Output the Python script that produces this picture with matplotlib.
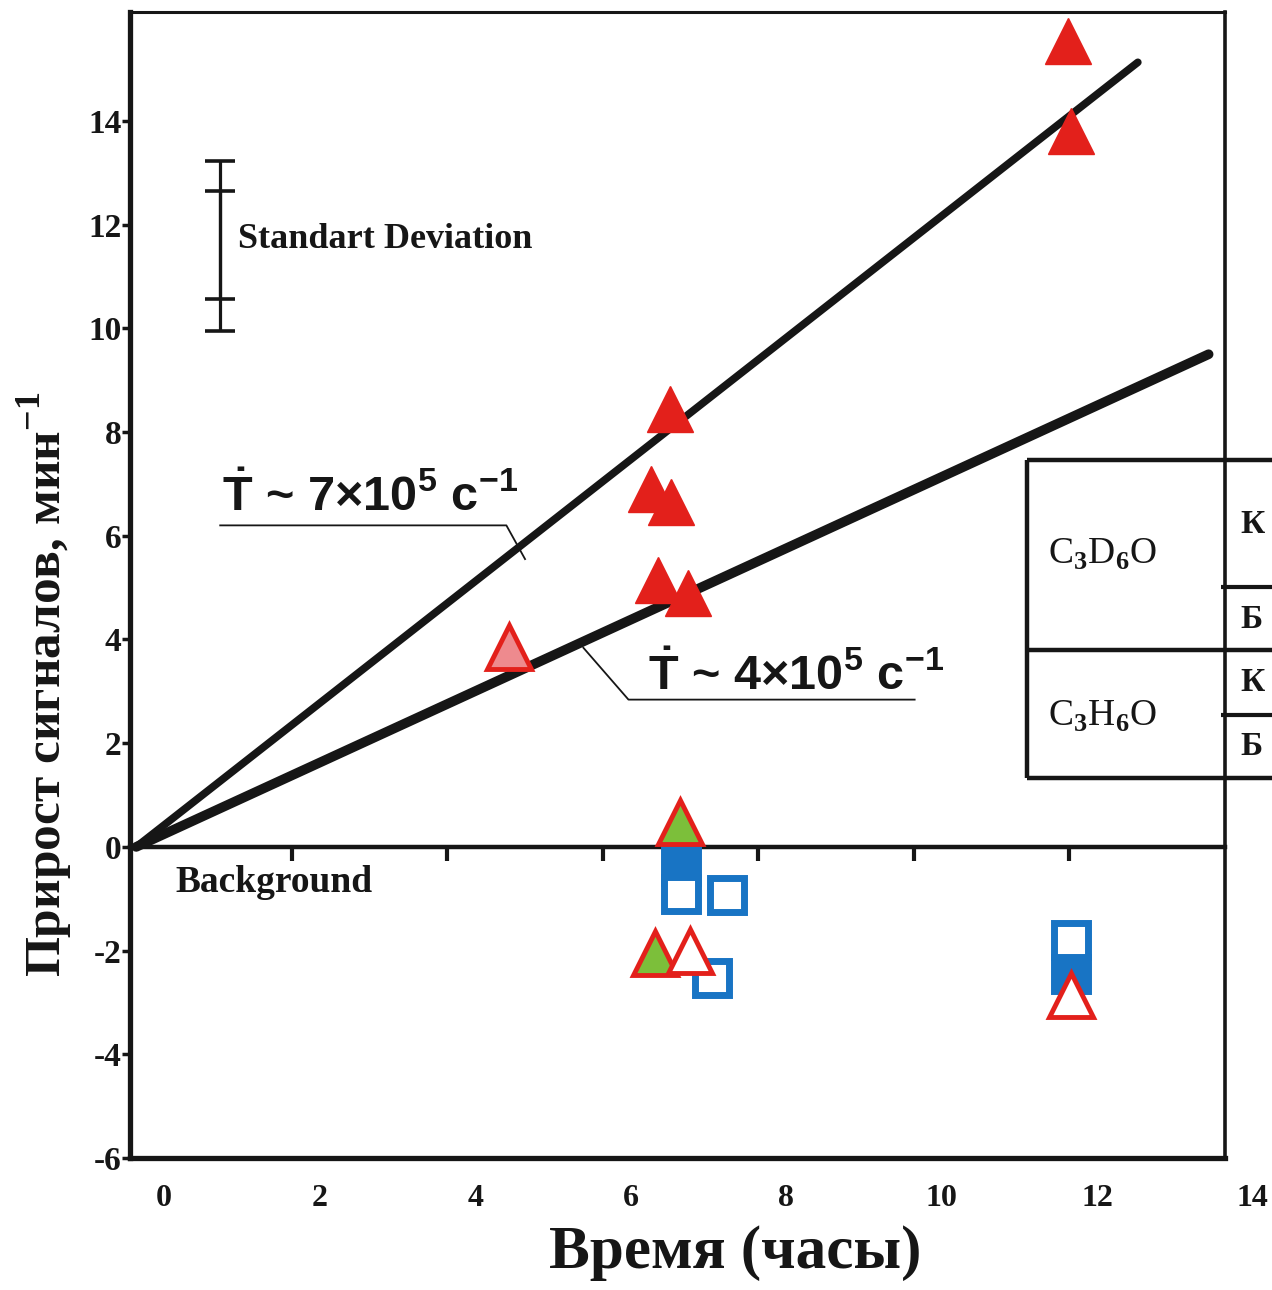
import matplotlib

matplotlib.use("Agg")
import matplotlib.pyplot as plt
import matplotlib.transforms as mtransforms

plt.rcParams["font.family"] = ["Liberation Serif", "DejaVu Serif"]
plt.rcParams["font.weight"] = "bold"
plt.rcParams["axes.labelweight"] = "bold"
plt.rcParams["mathtext.fontset"] = "custom"
plt.rcParams["mathtext.rm"] = "Liberation Serif"
plt.rcParams["mathtext.bf"] = "Liberation Serif:bold"
plt.rcParams["mathtext.sf"] = "Liberation Sans:bold"

# fitted rate lines (hours, signals per minute)
fast_t = [0.0, 12.88]
fast_y = [0.0, 15.13]
slow_t = [0.0, 13.79]
slow_y = [0.0, 9.5]

# red filled triangles
signal_t = [11.98, 12.02, 6.86, 6.62, 6.88, 6.71, 7.09]
signal_y = [15.55, 13.8, 8.45, 6.9, 6.65, 5.15, 4.9]
# pink triangle
pink_t = [4.79]
pink_y = [3.85]
# green triangles
green_t = [6.99, 6.67]
green_y = [0.48, -2.05]
# open triangles
open_tri_t = [7.12, 12.02]
open_tri_y = [-2.0, -2.86]
# blue squares
filled_sq_t = [7.0, 12.02]
filled_sq_y = [-0.37, -2.45]
open_sq_t = [7.0, 7.6, 7.41, 12.02]
open_sq_y = [-0.9, -0.92, -2.53, -1.8]

# standard deviation marker
sd_x = [1.08, 1.08]
sd_y = [11.58, 11.6]
sd_err = [1.64, 1.04]

x_ticks = [0, 2, 4, 6, 8, 10, 12, 14]
y_ticks = [-6, -4, -2, 0, 2, 4, 6, 8, 10, 12, 14]
zero_ticks = [2, 4, 6, 8, 10, 12]

RED = "#E3201B"
BLUE = "#1874C4"
GREEN = "#7CBF3A"
PINK = "#EE8A8E"
INK = "#161616"

fig = plt.figure(figsize=(12.72, 12.90), dpi=100)
ax = fig.add_axes([0.1022, 0.1023, 0.8608, 0.8884])
ax.set_xlim(-0.08, 13.95)
ax.set_ylim(-6, 16.1)

for side, lw in (("left", 3.8), ("bottom", 3.8), ("top", 2.2), ("right", 2.6)):
    ax.spines[side].set_linewidth(lw)
    ax.spines[side].set_color(INK)

ax.set_yticks(y_ticks)
ax.set_yticklabels([str(v) for v in y_ticks])
ax.tick_params(axis="y", direction="out", length=6, width=2.5, pad=0,
               labelsize=24, colors=INK)
ax.set_xticks(x_ticks)
ax.set_xticklabels([str(v) for v in x_ticks])
ax.tick_params(axis="x", length=0, pad=19, labelsize=23, colors=INK)
shift = mtransforms.ScaledTranslation(0.28, 0, fig.dpi_scale_trans)
for lab in ax.get_xticklabels():
    lab.set_transform(lab.get_transform() + shift)

# zero line with its own ticks
zero = ax.secondary_xaxis(6 / 22.1)
zero.spines["bottom"].set_linewidth(3.2)
zero.spines["bottom"].set_color(INK)
zero.set_xticks(zero_ticks)
zero.tick_params(direction="out", length=10, width=3, labelbottom=False,
                 colors=INK)

ax.plot(fast_t, fast_y, color=INK, lw=5.5, solid_capstyle="round", zorder=3)
ax.plot(slow_t, slow_y, color=INK, lw=7, solid_capstyle="round", zorder=3)

ax.plot(filled_sq_t, filled_sq_y, "s", ms=24.5, mfc=BLUE, mec=BLUE, mew=5,
        ls="none", zorder=4)
ax.plot(open_sq_t, open_sq_y, "s", ms=24.5, mfc="white", mec=BLUE, mew=5,
        ls="none", zorder=5)
ax.plot(signal_t, signal_y, "^", ms=33, mfc=RED, mec=RED, mew=1,
        ls="none", zorder=6)
ax.plot(pink_t, pink_y, "^", ms=31, mfc=PINK, mec=RED, mew=3.5,
        ls="none", zorder=6)
ax.plot(green_t, green_y, "^", ms=31, mfc=GREEN, mec=RED, mew=3.5,
        ls="none", zorder=6)
ax.plot(open_tri_t, open_tri_y, "^", ms=31, mfc="white", mec=RED, mew=3.5,
        ls="none", zorder=6)

ax.errorbar(sd_x, sd_y, yerr=sd_err, fmt="none", ecolor=INK, elinewidth=2.3,
            capsize=10.5, capthick=2.6, zorder=3)
ax.text(1.31, 11.72, "Standart Deviation", fontsize=26, va="center",
        ha="left", color=INK)
ax.text(0.5, -0.68, "Background", fontsize=27, va="center", ha="left",
        color=INK)

# rate annotations with leader lines
ax.plot([1.08, 4.76, 5.0], [6.2, 6.2, 5.55], color=INK, lw=1.3, zorder=4)
ax.text(1.1, 6.47, r"$\mathsf{\dot{T}}$ ~ 7×10$^{\mathsf{5}}$ с$^{\mathsf{-1}}$",
        family=["Liberation Sans", "DejaVu Sans"], fontsize=35, ha="left",
        va="baseline", color=INK)
ax.plot([5.75, 6.33, 10.01], [3.84, 2.84, 2.84], color=INK, lw=1.3, zorder=4)
ax.text(6.58, 3.03, r"$\mathsf{\dot{T}}$ ~ 4×10$^{\mathsf{5}}$ с$^{\mathsf{-1}}$",
        family=["Liberation Sans", "DejaVu Sans"], fontsize=35, ha="left",
        va="baseline", color=INK)

# sample table on the right (runs past the figure edge)
tx0, tx1, tx2 = 11.45, 13.95, 17.0
ty = [7.47, 5.02, 3.8, 2.55, 1.33]
ax.hlines([ty[0], ty[2], ty[4]], tx0, tx2, color=INK, lw=3.2, clip_on=False,
          zorder=4)
ax.hlines([ty[1], ty[3]], tx1, tx2, color=INK, lw=3.0, clip_on=False, zorder=4)
ax.vlines([tx0], ty[4], ty[0], color=INK, lw=3.2, clip_on=False, zorder=4)
ax.text(11.73, 5.64, r"C$_{\mathbf{3}}$D$_{\mathbf{6}}$O", fontsize=27,
        fontweight="normal", va="center", ha="left", color=INK)
ax.text(11.73, 2.51, r"C$_{\mathbf{3}}$H$_{\mathbf{6}}$O", fontsize=27,
        fontweight="normal", va="center", ha="left", color=INK)
for yy, word in zip([6.22, 4.38, 3.17, 1.93], ["К", "Б", "К", "Б"]):
    ax.text(14.2, yy, word, fontsize=24, va="center", ha="left", color=INK,
            clip_on=False)

ax.set_xlabel("Время (часы)", fontsize=44, fontweight="bold", color=INK)
ax.xaxis.set_label_coords(0.5525, -0.058)
ax.set_ylabel("Прирост сигналов, мин$^{\\mathbf{-1}}$", fontsize=37,
              fontweight="bold", color=INK)
ax.yaxis.set_label_coords(-0.05, 0.413)

fig.savefig("out.png", dpi=100, facecolor="white")
